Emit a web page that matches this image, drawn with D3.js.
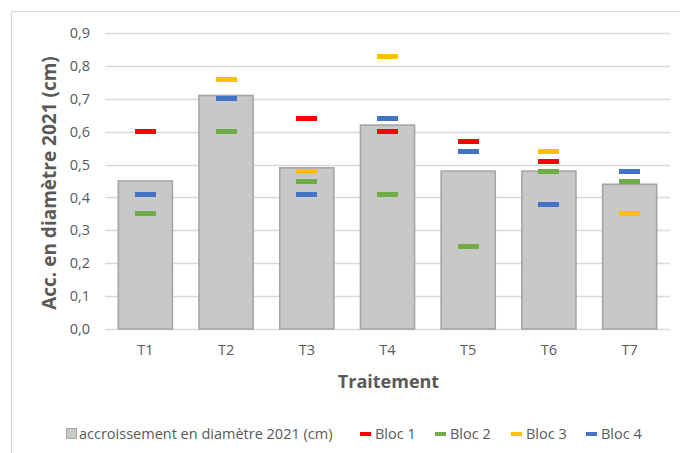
<!DOCTYPE html>
<html>
<head>
<meta charset="utf-8">
<script src="https://cdn.jsdelivr.net/npm/d3@7"></script>
<style>
  html, body { margin: 0; padding: 0; background: #fff; }
  svg { display: block; font-family: "Open Sans", "Liberation Sans", sans-serif; }
</style>
</head>
<body>
<svg id="chart" width="680" height="453"></svg>
<script>
// Treatments and their mean diameter growth
const categories = ["T1", "T2", "T3", "T4", "T5", "T6", "T7"];
const meanGrowth = [0.45, 0.71, 0.49, 0.62, 0.48, 0.48, 0.44];

// Individual block values (null = no measure)
const bloc1 = [0.60, 0.76, 0.64, 0.60, 0.57, 0.51, 0.48];
const bloc2 = [0.35, 0.60, 0.45, 0.41, 0.25, 0.48, 0.45];
const bloc3 = [null, 0.76, 0.48, 0.83, 0.54, 0.54, 0.35];
const bloc4 = [0.41, 0.70, 0.41, 0.64, 0.54, 0.38, 0.48];

const yTicks = [0, 0.1, 0.2, 0.3, 0.4, 0.5, 0.6, 0.7, 0.8, 0.9];

const barLabel = "accroissement en diamètre 2021 (cm)";
const blocNames = ["Bloc 1", "Bloc 2", "Bloc 3", "Bloc 4"];
const blocColors = ["#ff0000", "#70ad47", "#ffc000", "#4472c4"];
const blocs = [bloc1, bloc2, bloc3, bloc4];

const svg = d3.select("#chart");
const textColor = "#595959";
const gridColor = "#d9d9d9";

// Outer chart frame
svg.append("rect")
  .attr("x", 11.5).attr("y", 11.5)
  .attr("width", 700).attr("height", 480)
  .attr("fill", "none").attr("stroke", gridColor).attr("stroke-width", 1.2);

const plot = { left: 105, right: 670, top: 33, bottom: 329 };

const x = d3.scaleBand()
  .domain(categories)
  .range([plot.left, plot.right])
  .paddingInner(0.33)
  .paddingOuter(0.165);

const y = d3.scaleLinear()
  .domain([0, 0.9])
  .range([plot.bottom, plot.top]);

const fmt = v => d3.format(".1f")(v).replace(".", ",");

// Horizontal gridlines
svg.append("g")
  .selectAll("line")
  .data(yTicks)
  .join("line")
  .attr("x1", plot.left).attr("x2", plot.right)
  .attr("y1", d => Math.round(y(d)) + 0.5)
  .attr("y2", d => Math.round(y(d)) + 0.5)
  .attr("stroke", gridColor).attr("stroke-width", 1.3);

// Y axis labels
const yAxis = d3.axisLeft(y).tickValues(yTicks).tickFormat(fmt).tickSize(0).tickPadding(0);
const gy = svg.append("g").attr("transform", `translate(${plot.left - 15},0)`).call(yAxis);
gy.select(".domain").remove();
gy.selectAll("text").attr("fill", textColor).attr("font-size", 14.5)
  .attr("font-family", "'Open Sans', sans-serif");

// Bars
svg.append("g")
  .selectAll("rect")
  .data(categories)
  .join("rect")
  .attr("x", d => x(d))
  .attr("y", (d, i) => y(meanGrowth[i]))
  .attr("width", x.bandwidth())
  .attr("height", (d, i) => y(0) - y(meanGrowth[i]))
  .attr("fill", "#c8c8c8")
  .attr("stroke", "#a5a5a5")
  .attr("stroke-width", 1.6);

// Block markers (short dashes)
const dashW = 21, dashH = 5;
blocs.forEach((vals, b) => {
  svg.append("g")
    .attr("shape-rendering", "crispEdges")
    .selectAll("rect")
    .data(categories.map((c, i) => ({ c, v: vals[i] })).filter(d => d.v != null))
    .join("rect")
    .attr("x", d => Math.round(x(d.c) + x.bandwidth() / 2 - dashW / 2))
    .attr("y", d => Math.round(y(d.v) - dashH / 2))
    .attr("width", dashW).attr("height", dashH)
    .attr("fill", blocColors[b]);
});

// X axis labels
const xAxis = d3.axisBottom(x).tickSize(0).tickPadding(0);
const gx = svg.append("g").attr("transform", `translate(0,${plot.bottom + 16})`).call(xAxis);
gx.select(".domain").remove();
gx.selectAll("text").attr("fill", textColor).attr("font-size", 14.5)
  .attr("font-family", "'Open Sans', sans-serif");

// Axis titles
svg.append("text")
  .attr("x", (plot.left + plot.right) / 2 + 1).attr("y", 388)
  .attr("text-anchor", "middle")
  .attr("fill", textColor).attr("font-size", 18).attr("font-weight", "bold")
  .text("Traitement");

svg.append("text")
  .attr("transform", `translate(56,${(plot.top + plot.bottom) / 2 + 2}) rotate(-90)`)
  .attr("text-anchor", "middle")
  .attr("fill", textColor).attr("font-size", 19).attr("font-weight", "bold")
  .text("Acc. en diamètre 2021 (cm)");

// Legend
const legY = 434;
const leg = svg.append("g").attr("font-size", 14.5).attr("fill", textColor);
leg.append("rect").attr("x", 66.5).attr("y", legY - 5.5).attr("width", 10).attr("height", 10)
  .attr("fill", "#c8c8c8").attr("stroke", "#a5a5a5");
leg.append("text").attr("x", 79).attr("y", legY).attr("dy", "0.35em").text(barLabel);

const blocLegX = [360, 435, 511, 586];
blocNames.forEach((name, i) => {
  leg.append("rect").attr("x", blocLegX[i]).attr("y", legY - 2)
    .attr("width", 11).attr("height", 4).attr("fill", blocColors[i]);
  leg.append("text").attr("x", blocLegX[i] + 15).attr("y", legY).attr("dy", "0.35em").text(name);
});
</script>
</body>
</html>
